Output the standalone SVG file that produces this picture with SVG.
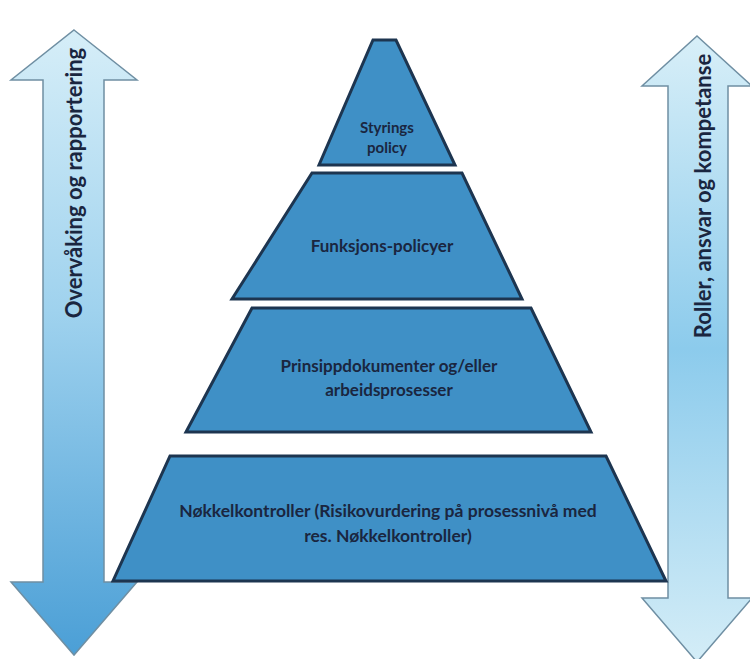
<svg xmlns="http://www.w3.org/2000/svg" width="750" height="659" viewBox="0 0 750 659">
  <defs>
    <linearGradient id="gradLeft" x1="0" y1="0" x2="0" y2="1">
      <stop offset="0" stop-color="#d6eef8"/>
      <stop offset="0.45" stop-color="#9fd2ee"/>
      <stop offset="1" stop-color="#4b9fd6"/>
    </linearGradient>
    <linearGradient id="gradRight" x1="0" y1="0" x2="0" y2="1">
      <stop offset="0" stop-color="#d8eff8"/>
      <stop offset="0.5" stop-color="#8ccbec"/>
      <stop offset="1" stop-color="#d4edf7"/>
    </linearGradient>
    <style>
      .tier { fill: #3f90c6; stroke: #1d3550; stroke-width: 3; stroke-linejoin: miter; }
      .arrow { stroke: #6f8fa3; stroke-width: 1.5; }
      .lbl { font-family: "Lato", "Liberation Sans", sans-serif; font-weight: bold; fill: #1a2640; text-anchor: middle; }
      .side { font-family: "Lato", "Liberation Sans", sans-serif; font-weight: bold; fill: #1a2640; text-anchor: middle; font-size: 22px; }
    </style>
  </defs>
  <rect width="750" height="659" fill="#ffffff"/>

  <!-- side arrows -->
  <g id="arrow-left">
    <polygon class="arrow" fill="url(#gradLeft)" points="74,30 137,80 104,80 104,582 137,582 74,655 11,582 43,582 43,80 11,80"/>
    <text class="side" transform="translate(82,183) rotate(-90)">Overvåking og rapportering</text>
  </g>
  <g id="arrow-right">
    <polygon class="arrow" fill="url(#gradRight)" points="697,36 752,86 728,86 728,598 752,598 697,662 642,598 668,598 668,86 642,86"/>
    <text class="side" transform="translate(711,196) rotate(-90)">Roller, ansvar og kompetanse</text>
  </g>

  <!-- pyramid tiers -->
  <g id="tier-1">
    <polygon class="tier" points="373,40 396,40 455,165 319,165"/>
    <text class="lbl" font-size="15"><tspan x="387" y="133">Styrings</tspan><tspan x="387" y="153">policy</tspan></text>
  </g>
  <g id="tier-2">
    <polygon class="tier" points="312,173 462,173 522,299 232,299"/>
    <text class="lbl" font-size="17" x="382" y="252">Funksjons-policyer</text>
  </g>
  <g id="tier-3">
    <polygon class="tier" points="252,308 531,308 591,432 186,432"/>
    <text class="lbl" font-size="17"><tspan x="389" y="372">Prinsippdokumenter og/eller</tspan><tspan x="389" y="396">arbeidsprosesser</tspan></text>
  </g>
  <g id="tier-4">
    <polygon class="tier" points="170,456 606,456 666,581 113,581"/>
    <text class="lbl" font-size="17.5"><tspan x="388" y="517">Nøkkelkontroller (Risikovurdering på prosessnivå med</tspan><tspan x="388" y="542">res. Nøkkelkontroller)</tspan></text>
  </g>
</svg>
